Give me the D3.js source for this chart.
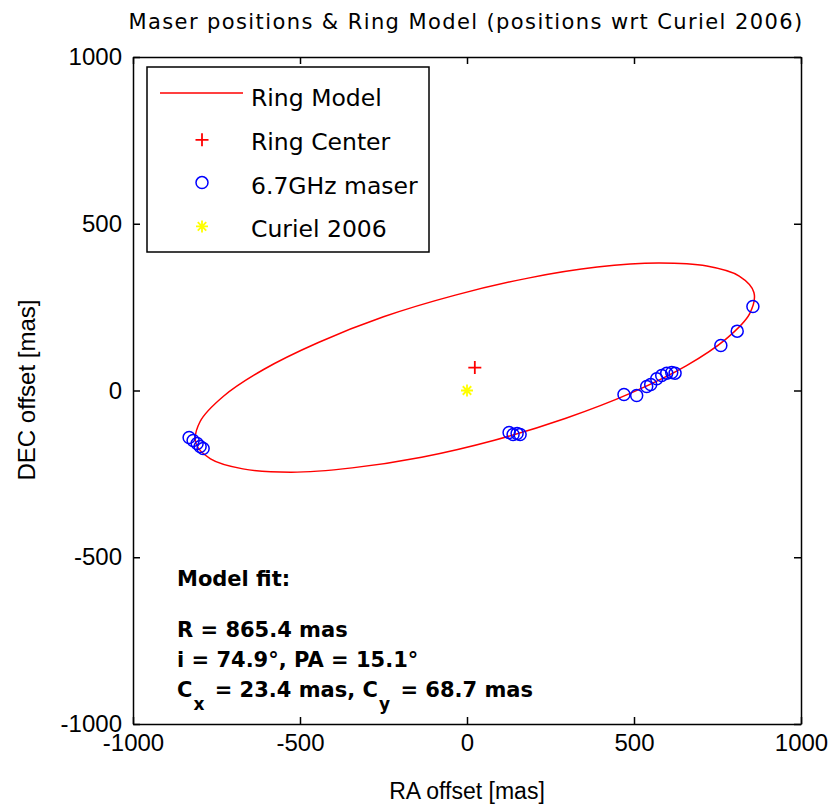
<html>
<head>
  <title>Maser positions & Ring Model</title>
  <script src="https://d3js.org/d3.v7.min.js"></script>
  <style>
    body { margin: 0; background: #fff; }
    .tick text { font-family: "Liberation Sans", Arial, sans-serif; font-size: 24px; fill: #000; }
    .domain, .tick line { stroke: #000; stroke-width: 1.5px; }
  </style>
</head>
<body>
  <svg width="831" height="807"></svg>
  <script>
    // ring model outline (RA / DEC in mas)
    var ringRA = [859, 815, 718, 573, 390, 183, -35, -250, -445, -609, -730, -799,
                  -812, -768, -671, -526, -344, -136, 82, 296, 492, 656, 776, 846];
    var ringDEC = [294, 343, 373, 382, 370, 337, 286, 221, 144, 63, -18, -93,
                   -157, -205, -235, -245, -232, -200, -149, -83, -7, 74, 155, 230];

    // 6.7GHz maser spots
    var maserRA = [-832, -820, -808, -799, -790, 126, 138, 150, 159,
                   470, 508, 538, 550, 568, 583, 598, 613, 623, 760, 809, 856];
    var maserDEC = [-141, -150, -159, -168, -174, -126, -132, -129, -132,
                    -12, -15, 12, 18, 35, 45, 52, 54, 52, 135, 178, 252];

    var ringCenter = [23.4, 68.7];
    var curiel = [0, 0];

    var xTicks = [-1000, -500, 0, 500, 1000];
    var yTicks = [-1000, -500, 0, 500, 1000];

    var legendLabels = ["Ring Model", "Ring Center", "6.7GHz maser", "Curiel 2006"];

    var svg = d3.select("svg");

    var x = d3.scaleLinear().domain([-1000, 1000]).range([133, 801]);
    var y = d3.scaleLinear().domain([-1000, 1000]).range([724, 57]);

    var plain = function(d) { return String(d); };
    var blank = function(d) { return ""; };

    // axes, ticks pointing inward on all four sides
    svg.append("g")
      .attr("transform", "translate(0,724)")
      .call(d3.axisBottom(x).tickValues(xTicks).tickFormat(plain).tickSizeInner(-7).tickSizeOuter(0).tickPadding(10));
    svg.append("g")
      .attr("transform", "translate(0,57)")
      .call(d3.axisTop(x).tickValues(xTicks).tickSizeInner(-7).tickSizeOuter(0).tickFormat(blank));
    svg.append("g")
      .attr("transform", "translate(133,0)")
      .call(d3.axisLeft(y).tickValues(yTicks).tickFormat(plain).tickSizeInner(-7).tickSizeOuter(0).tickPadding(11));
    svg.append("g")
      .attr("transform", "translate(801,0)")
      .call(d3.axisRight(y).tickValues(yTicks).tickSizeInner(-7).tickSizeOuter(0).tickFormat(blank));

    // title + axis labels
    svg.append("text")
      .attr("x", 466).attr("y", 29)
      .attr("text-anchor", "middle")
      .attr("font-family", "DejaVu Sans")
      .attr("font-size", "21px")
      .attr("letter-spacing", "1.4px")
      .text("Maser positions & Ring Model (positions wrt Curiel 2006)");

    svg.append("text")
      .attr("x", 467).attr("y", 799)
      .attr("text-anchor", "middle")
      .attr("font-family", "Liberation Sans")
      .attr("font-size", "23px")
      .text("RA offset [mas]");

    svg.append("text")
      .attr("transform", "translate(35,390) rotate(-90)")
      .attr("text-anchor", "middle")
      .attr("font-family", "Liberation Sans")
      .attr("font-size", "24px")
      .text("DEC offset [mas]");

    // ring model
    var ring = ringRA.map(function(d, i) { return [d, ringDEC[i]]; });
    var line = d3.line()
      .x(function(d) { return x(d[0]); })
      .y(function(d) { return y(d[1]); })
      .curve(d3.curveCatmullRomClosed.alpha(0.5));

    svg.append("path")
      .datum(ring)
      .attr("d", line)
      .attr("fill", "none")
      .attr("stroke", "#ff0000")
      .attr("stroke-width", 1.5);

    function plusPath(s) {
      return "M" + (-s) + ",0H" + s + "M0," + (-s) + "V" + s;
    }
    function starPath(s) {
      var d = s * 0.707;
      return plusPath(s) + "M" + (-d) + "," + (-d) + "L" + d + "," + d + "M" + (-d) + "," + d + "L" + d + "," + (-d);
    }

    // maser spots
    var masers = maserRA.map(function(d, i) { return [d, maserDEC[i]]; });
    svg.selectAll(".maser")
      .data(masers)
      .enter()
      .append("circle")
      .attr("class", "maser")
      .attr("cx", function(d) { return x(d[0]); })
      .attr("cy", function(d) { return y(d[1]); })
      .attr("r", 6)
      .attr("fill", "none")
      .attr("stroke", "#0000ff")
      .attr("stroke-width", 1.5);

    svg.append("path")
      .attr("transform", "translate(" + x(ringCenter[0]) + "," + y(ringCenter[1]) + ")")
      .attr("d", plusPath(6.5))
      .attr("stroke", "#ff0000")
      .attr("stroke-width", 1.8);

    svg.append("path")
      .attr("transform", "translate(" + x(curiel[0]) + "," + y(curiel[1]) + ")")
      .attr("d", starPath(6))
      .attr("stroke", "#ffff00")
      .attr("stroke-width", 1.8);

    // legend
    var lg = svg.append("g");
    lg.append("rect")
      .attr("x", 147).attr("y", 67)
      .attr("width", 282).attr("height", 185)
      .attr("fill", "#fff")
      .attr("stroke", "#000")
      .attr("stroke-width", 1.5);

    var rowY = function(i) { return 98 + i * 43.8; };

    lg.append("line")
      .attr("x1", 160).attr("x2", 243)
      .attr("y1", rowY(0) - 5).attr("y2", rowY(0) - 5)
      .attr("stroke", "#ff0000").attr("stroke-width", 1.5);
    lg.append("path")
      .attr("transform", "translate(202," + (rowY(1) - 2) + ")")
      .attr("d", plusPath(6.5))
      .attr("stroke", "#ff0000").attr("stroke-width", 1.8);
    lg.append("circle")
      .attr("cx", 202).attr("cy", rowY(2) - 3)
      .attr("r", 6)
      .attr("fill", "none")
      .attr("stroke", "#0000ff").attr("stroke-width", 1.5);
    lg.append("path")
      .attr("transform", "translate(202," + (rowY(3) - 3) + ")")
      .attr("d", starPath(6))
      .attr("stroke", "#ffff00").attr("stroke-width", 1.8);

    lg.selectAll(".lgtext")
      .data(legendLabels)
      .enter()
      .append("text")
      .attr("class", "lgtext")
      .attr("x", 251)
      .attr("y", function(d, i) { return rowY(i) + 8; })
      .attr("font-family", "DejaVu Sans")
      .attr("font-size", "23.5px")
      .text(function(d) { return d; });

    // model fit annotation
    var fit = svg.append("g")
      .attr("font-family", "DejaVu Sans")
      .attr("font-weight", "bold")
      .attr("font-size", "21px");
    fit.append("text").attr("x", 177).attr("y", 586).text("Model fit:");
    fit.append("text").attr("x", 177).attr("y", 637).text("R = 865.4 mas");
    fit.append("text").attr("x", 177).attr("y", 667).text("i = 74.9°, PA = 15.1°");
    var c = fit.append("text").attr("x", 177).attr("y", 697);
    c.append("tspan").text("C");
    c.append("tspan").attr("dy", 13).attr("dx", 1).attr("font-size", "17px").text("x");
    c.append("tspan").attr("dy", -13).attr("dx", 3).text(" = 23.4 mas, C");
    c.append("tspan").attr("dy", 13).attr("dx", 1).attr("font-size", "17px").text("y");
    c.append("tspan").attr("dy", -13).attr("dx", 3).text(" = 68.7 mas");
  </script>
</body>
</html>
